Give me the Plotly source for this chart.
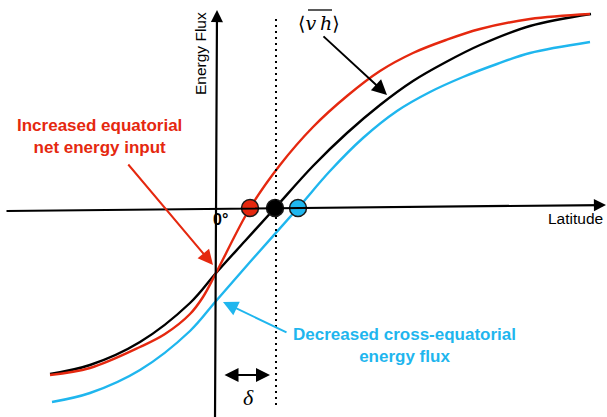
import plotly.graph_objects as go

# Schematic energy-flux profiles versus latitude (arbitrary units, origin at the equator)
black_lat = [-166, -126, -76, -26, 0, 29, 59, 97, 131, 164, 197, 230, 264, 314, 375]
black_flux = [-166, -157, -134, -95, -65, -33, 0, 42, 75, 103, 127, 146, 163, 182, 194]

red_lat = [-166, -126, -76, -51, -26, -13, 0, 34, 64, 97, 131, 164, 197, 230, 264, 314, 374]
red_flux = [-167, -160, -139, -126, -106, -89, -65, 0, 43, 81, 112, 137, 155, 168, 179, 189, 194]

blue_lat = [-164, -126, -76, -26, 0, 34, 82, 114, 147, 181, 214, 247, 281, 314, 374]
blue_flux = [-194, -185, -162, -123, -93, -54, 0, 37, 70, 97, 116, 131, 144, 155, 166]

# Zero crossings (energy flux equator) of each profile
crossing_lat = [34, 59, 82]
crossing_flux = [0, 0, 0]

RED = "#e5280f"
BLUE = "#1fb6ee"
BLACK = "#000000"

fig = go.Figure()

for lat, flux, col in [(black_lat, black_flux, BLACK),
                       (red_lat, red_flux, RED),
                       (blue_lat, blue_flux, BLUE)]:
    fig.add_trace(go.Scatter(x=lat, y=flux, mode="lines",
                             line=dict(color=col, width=2.4, shape="spline", smoothing=1.0),
                             hoverinfo="skip", showlegend=False))

# dotted line at the black crossing latitude
fig.add_shape(type="line", x0=60, x1=60, y0=-197, y1=190,
              line=dict(color="black", width=2, dash="2px,4px"))

# axes drawn as arrows
arrow_common = dict(xref="x", yref="y", axref="x", ayref="y", text="",
                    showarrow=True, arrowcolor="black")
fig.add_annotation(x=390, y=3, ax=-211, ay=-3, arrowhead=2, arrowsize=1.1,
                   arrowwidth=2.2, **arrow_common)
fig.add_annotation(x=1, y=198, ax=-1, ay=-212, arrowhead=2, arrowsize=1.1,
                   arrowwidth=2.2, **arrow_common)

# dots on the latitude axis
fig.add_trace(go.Scatter(x=crossing_lat, y=crossing_flux, mode="markers",
                         marker=dict(size=17, color=[RED, BLACK, BLUE],
                                     line=dict(color="#1a1a1a", width=1.5)),
                         hoverinfo="skip", showlegend=False))

# pointer arrows
fig.add_annotation(x=-3, y=-57, ax=-89, ay=45, arrowhead=2, arrowsize=1.5,
                   arrowwidth=2, **{**arrow_common, "arrowcolor": RED})
fig.add_annotation(x=7, y=-94, ax=72, ay=-125, arrowhead=2, arrowsize=1.5,
                   arrowwidth=2, **{**arrow_common, "arrowcolor": BLUE})
fig.add_annotation(x=171, y=113, ax=106, ay=173, arrowhead=2, arrowsize=1.5,
                   arrowwidth=2, **arrow_common)
# delta double arrow
fig.add_annotation(x=54, y=-167, ax=7, ay=-167, arrowhead=2, startarrowhead=2,
                   arrowside="end+start", arrowsize=1.4, startarrowsize=1.4,
                   arrowwidth=2, **arrow_common)

sans = "Liberation Sans, Arial, sans-serif"
serif = "Liberation Serif, DejaVu Serif, serif"

fig.add_annotation(x=-16, y=154, text="Energy Flux", textangle=-90, showarrow=False,
                   font=dict(family=sans, size=15.5, color="black"))
fig.add_annotation(x=4, y=-11, text="<b>0°</b>", showarrow=False,
                   font=dict(family=sans, size=16, color="black"))
fig.add_annotation(x=389, y=-10, text="Latitude", showarrow=False, xanchor="right",
                   font=dict(family=sans, size=15.5, color="black"))
fig.add_annotation(x=-117, y=72, text="<b>Increased equatorial<br>net energy input</b>",
                   showarrow=False, font=dict(family=sans, size=17, color=RED))
fig.add_annotation(x=188, y=-137, text="<b>Decreased cross-equatorial<br>energy flux</b>",
                   showarrow=False, font=dict(family=sans, size=17, color=BLUE))
fig.add_annotation(x=32, y=-189, text="<i>δ</i>", showarrow=False,
                   font=dict(family=serif, size=22, color="black"))
fig.add_annotation(x=103, y=185, text="⟨<i>v</i>\u2009<i>h</i>⟩", showarrow=False,
                   font=dict(family="DejaVu Serif, serif", size=19, color="black"))
fig.add_shape(type="line", x0=92, x1=116, y0=198, y1=198,
              line=dict(color="black", width=1.3))

fig.update_layout(
    width=607, height=417,
    margin=dict(l=0, r=0, t=0, b=0),
    paper_bgcolor="white", plot_bgcolor="white",
    xaxis=dict(range=[-216, 391], visible=False, fixedrange=True),
    yaxis=dict(range=[-209, 208], visible=False, fixedrange=True),
)

fig.write_html("out.html")
